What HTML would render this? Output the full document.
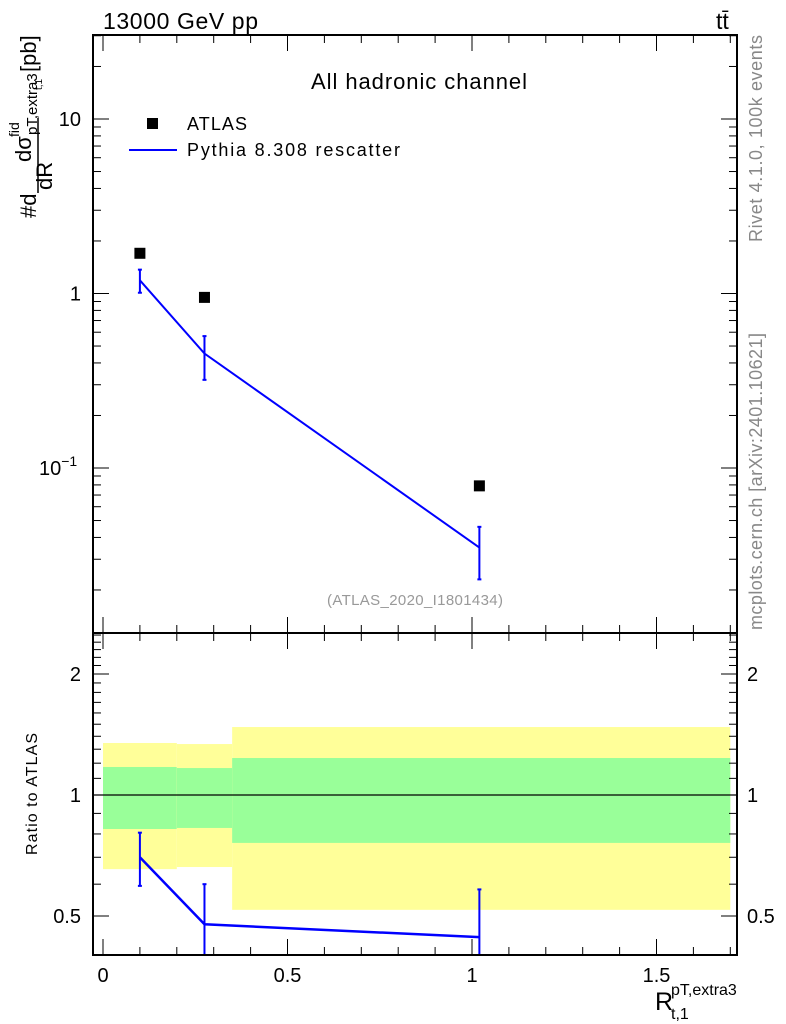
<!DOCTYPE html>
<html><head><meta charset="utf-8">
<style>
body{margin:0;background:#fff;}
svg{display:block;font-family:"Liberation Sans",sans-serif;}
</style></head>
<body>
<svg id="chart" width="786" height="1024" xmlns="http://www.w3.org/2000/svg">
<text x="103" y="29" font-size="23" textLength="155">13000 GeV pp</text>
<text x="716" y="29" font-size="23">tt̄</text>
<text x="311" y="89" font-size="22" textLength="216">All hadronic channel</text>
<text x="327" y="605" font-size="15" fill="#999" textLength="176">(ATLAS_2020_I1801434)</text>
<text transform="translate(762,242) rotate(-90)" font-size="18" fill="#888" textLength="207">Rivet 4.1.0,  100k events</text>
<text transform="translate(762,630) rotate(-90)" font-size="18" fill="#888" textLength="297">mcplots.cern.ch [arXiv:2401.10621]</text>
<g font-size="22">
<text transform="translate(36,218) rotate(-90)">#d</text>
<line x1="38" y1="118" x2="38" y2="193" stroke="#000" stroke-width="1.5"/>
<text transform="translate(31,162) rotate(-90)">dσ</text>
<text transform="translate(52,190) rotate(-90)">dR</text>
<text transform="translate(19,137) rotate(-90)" font-size="14">fid</text>
<text transform="translate(37,135) rotate(-90)" font-size="15">pT,extra3</text>
<text transform="translate(42,90) rotate(-90)" font-size="10">t,1</text>
<text transform="translate(36,72) rotate(-90)">[pb]</text>
</g>
<text transform="translate(37,855) rotate(-90)" font-size="16" textLength="122">Ratio to ATLAS</text>
<g>
<text x="655" y="1010" font-size="25">R</text>
<text x="671" y="995" font-size="16">pT,extra3</text>
<text x="671" y="1019" font-size="16">t,1</text>
</g>
<g>
<rect x="147" y="118" width="11" height="11" fill="#000"/>
<text x="187" y="130" font-size="18" textLength="60">ATLAS</text>
<line x1="129" y1="150" x2="177" y2="150" stroke="#00f" stroke-width="2"/>
<text x="187" y="156" font-size="18" textLength="213">Pythia 8.308 rescatter</text>
</g>
<g id="g"></g>
</svg>
<script>
const xEdgesLo=[0,0.2,0.35];
const xEdgesHi=[0.2,0.35,1.7];
const xPts=[0.1,0.275,1.02];
const atlasVals=[1.7,0.95,0.079];
const mcVals=[1.19,0.453,0.035];
const mcErrLo=[1.01,0.32,0.023];
const mcErrHi=[1.37,0.57,0.046];
const yellowLo=[0.654,0.662,0.518];
const yellowHi=[1.347,1.339,1.476];
const greenLo=[0.823,0.828,0.760];
const greenHi=[1.174,1.167,1.236];
const xTicks=[0,0.5,1,1.5];
const xTickLabels=["0","0.5","1","1.5"];
const yTicks=[10,1,0.1];
const rTicks=[2,1,0.5];
const rTickLabels=["2","1","0.5"];

const L=93,R=737,T=35,MB=633,RB=955;
const X=v=>103+v*369;
const Y=v=>119-(Math.log10(v)-1)*174.5;
const RY=v=>795-Math.log2(v)*121;
const NS="http://www.w3.org/2000/svg";
const g=document.getElementById('g');
function el(t,a){const e=document.createElementNS(NS,t);for(const k in a)e.setAttribute(k,a[k]);g.appendChild(e);return e;}
function clipR(y){return Math.max(MB,Math.min(RB,y));}

for(let i=0;i<xEdgesLo.length;i++){
 let e=el('rect',{x:X(xEdgesLo[i]),y:RY(yellowHi[i]),width:X(xEdgesHi[i])-X(xEdgesLo[i]),height:RY(yellowLo[i])-RY(yellowHi[i]),fill:'#ffff99'});
 
 
 e=el('rect',{x:X(xEdgesLo[i]),y:RY(greenHi[i]),width:X(xEdgesHi[i])-X(xEdgesLo[i]),height:RY(greenLo[i])-RY(greenHi[i]),fill:'#99ff99'});
 
 
}
let l1=el('line',{x1:L,x2:R,y1:RY(1),y2:RY(1),stroke:'#000','stroke-width':1.2});



let pts=xPts.map((x,i)=>X(x)+','+Y(mcVals[i])).join(' ');
let pl=el('polyline',{points:pts,fill:'none',stroke:'#00f','stroke-width':2});


xPts.forEach((x,i)=>{
 let e=el('line',{x1:X(x),x2:X(x),y1:Y(mcErrLo[i]),y2:Y(mcErrHi[i]),stroke:'#00f','stroke-width':2});
 
 
 el('line',{x1:X(x)-2,x2:X(x)+2,y1:Y(mcErrLo[i]),y2:Y(mcErrLo[i]),stroke:'#00f','stroke-width':2});
 el('line',{x1:X(x)-2,x2:X(x)+2,y1:Y(mcErrHi[i]),y2:Y(mcErrHi[i]),stroke:'#00f','stroke-width':2});
 let a=el('rect',{x:X(x)-5.5,y:Y(atlasVals[i])-5.5,width:11,height:11,fill:'#000'});
 
 
});
let rp=xPts.map((x,i)=>X(x)+','+clipR(RY(mcVals[i]/atlasVals[i]))).join(' ');
let rl=el('polyline',{points:rp,fill:'none',stroke:'#00f','stroke-width':2.5});


xPts.forEach((x,i)=>{
 const lo=clipR(RY(mcErrLo[i]/atlasVals[i])),hi=clipR(RY(mcErrHi[i]/atlasVals[i]));
 let e=el('line',{x1:X(x),x2:X(x),y1:lo,y2:hi,stroke:'#00f','stroke-width':2});
 
 
 [lo,hi].forEach(y=>{if(y>MB&&y<RB)el('line',{x1:X(x)-2,x2:X(x)+2,y1:y,y2:y,stroke:'#00f','stroke-width':2});});
});

let f1=el('rect',{x:L,y:T,width:R-L,height:MB-T,fill:'none',stroke:'#000','stroke-width':2});


let f2=el('rect',{x:L,y:MB,width:R-L,height:RB-MB,fill:'none',stroke:'#000','stroke-width':2});



for(let k=0;k<=17;k++){const v=k*0.1,x=X(v),big=(k%5===0),h=big?16:8;
 [[T,1],[MB,-1],[MB,1],[RB,-1]].forEach(([y,d])=>el('line',{x1:x,x2:x,y1:y,y2:y+d*h,stroke:'#000','stroke-width':1}));}
xTicks.forEach((v,i)=>{let t=el('text',{x:X(v),y:982,'font-size':20,'text-anchor':'middle'});t.textContent=xTickLabels[i];
 
 });
for(let d=-2;d<=1;d++)for(let m=1;m<=9;m++){const v=m*Math.pow(10,d),y=Y(v);if(y<T||y>MB)continue;const h=m===1?16:8;
 el('line',{x1:L,x2:L+h,y1:y,y2:y,stroke:'#000'});el('line',{x1:R,x2:R-h,y1:y,y2:y,stroke:'#000'});}
yTicks.forEach(v=>{let t=el('text',{x:81,y:Y(v)+7,'font-size':20,'text-anchor':'end'});
 if(v===0.1){t.textContent='10';const s=document.createElementNS(NS,'tspan');s.setAttribute('dy','-9');s.setAttribute('font-size','14');s.textContent='−1';t.appendChild(s);t.setAttribute('x',39);t.setAttribute('text-anchor','start');}
 else t.textContent=String(v);
 
 });
[0.4,0.5,0.6,0.7,0.8,0.9,1,1.1,1.2,1.3,1.4,1.5,1.6,1.7,1.8,1.9,2,2.1,2.2,2.3,2.4,2.5].forEach(v=>{const y=RY(v);if(y<=MB||y>=RB)return;const h=(v===0.5||v===1||v===2)?16:8;
 el('line',{x1:L,x2:L+h,y1:y,y2:y,stroke:'#000'});el('line',{x1:R,x2:R-h,y1:y,y2:y,stroke:'#000'});});
rTicks.forEach((v,i)=>{let t=el('text',{x:81,y:RY(v)+7,'font-size':20,'text-anchor':'end'});t.textContent=rTickLabels[i];
 
 
 let t2=el('text',{x:747,y:RY(v)+7,'font-size':20});t2.textContent=rTickLabels[i];
 
 });
</script>
</body></html>
